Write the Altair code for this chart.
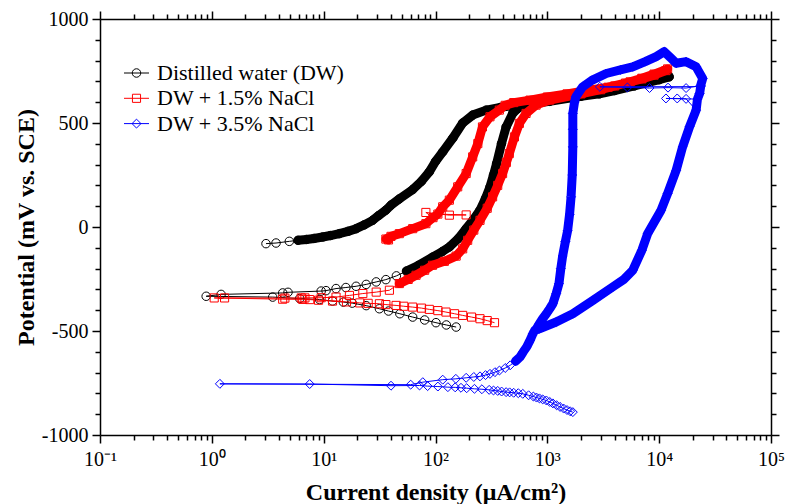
import altair as alt
import pandas as pd

# ---------------------------------------------------------------------------
# Cyclic polarization scans: current density (uA/cm^2) and potential (mV vs SCE)
# listed in scan order.  "LOOP" parts are the densely sampled stretches,
# the other parts are sparsely sampled.
# ---------------------------------------------------------------------------
SERIES = ["Distilled water (DW)", "DW + 1.5% NaCl", "DW + 3.5% NaCl"]

# Distilled water (DW)
DW_CATH_I = [153, 125, 101, 80, 62.5, 48, 38, 31.5, 24, 18, 15, 12, 9.2, 6.1, 3.5, 0.89]
DW_CATH_E = [-481, -471, -460, -447, -433, -417, -404, -393, -378, -366, -361, -356, -349, -344, -337, -333]
DW_RISE_I = [1.21, 4.3, 4.8, 9.5, 10.5, 12.9, 15.8, 19.5, 24, 29.5, 36, 44.7]
DW_RISE_E = [-324, -317, -314, -308, -306, -296, -291, -285, -276, -264, -253, -235]
DW_LOOP_I = [55, 70, 94, 115, 133, 160, 188, 220, 250, 280, 307, 330, 352, 389, 428, 490, 540, 603,
             1050, 2000, 2920, 4000, 6000, 8000, 10000, 12300,
             12000, 9000, 6000, 4000, 2500, 1500, 1000, 700, 500, 380, 284, 215, 175, 143, 116,
             100, 88, 75, 62.5, 47.5, 40, 36, 31, 27.4, 23, 19.5, 16.5, 13.8, 11.5, 9.8, 8.2, 7, 5.9]
DW_LOOP_E = [-212, -185, -145, -118, -96, -55, -8, 38, 81, 138, 193, 250, 305, 401, 481, 546, 568, 586,
             604, 628, 640, 656, 678, 695, 708, 722,
             730, 708, 684, 664, 645, 625, 612, 598, 585, 575, 562, 538, 500, 428, 361,
             315, 265, 220, 180, 135, 105, 81, 55, 32, 10, -8, -21, -32, -41, -48, -55, -60, -64]
DW_TAIL_I = [4.93, 3.75, 3.05]
DW_TAIL_E = [-69, -77, -80]

# DW + 1.5% NaCl
S15_CATH_I = [337, 290, 250, 210, 175, 148, 124, 105, 88, 75, 62.5, 52, 44.4, 36, 31.5, 25,
              21, 16, 12, 9, 7.5, 6.5, 4.3, 1.05]
S15_CATH_E = [-460, -450, -441, -433, -425, -417, -409, -402, -396, -390, -385, -381, -377, -373, -369, -367,
              -365, -360, -356, -352, -349, -348, -347, -341]
S15_RISE_I = [1.3, 4.5, 6.3, 6.8, 9.5, 12.9, 17, 22.4, 29.5, 38.7]
S15_RISE_E = [-341, -342, -341, -341, -340, -337, -329, -320, -313, -304]
S15_LOOP_A_I = [47.5, 57, 67, 80, 94, 120, 153, 175, 194, 220, 250, 290, 324, 360, 398, 430, 457, 508, 562,
                645, 793, 1050, 2000, 3000, 4000, 5500, 7000, 9000, 11900,
                11500, 9000, 7000, 5000, 3500, 2200, 1500, 1000, 700, 500, 420, 372, 307, 263, 239,
                215, 188, 158, 133, 116, 105]
S15_LOOP_A_E = [-272, -252, -232, -208, -184, -165, -140, -105, -64, -15, 32, 90, 145, 200, 257, 310, 353, 433, 498,
                546, 586, 610, 640, 660, 678, 698, 715, 735, 760,
                752, 730, 712, 692, 672, 655, 640, 625, 610, 598, 585, 562, 530, 481, 401,
                337, 257, 193, 129, 97, 62]
S15_SPIKE_I = [188, 133, 82]
S15_SPIKE_E = [58, 57, 70]
S15_LOOP_B_I = [95, 82, 62.5, 47.5, 40, 36, 38]
S15_LOOP_B_E = [45, 16, -8, -32, -45, -58, -62]

# DW + 3.5% NaCl
S35_CATH_I = [1690, 1600, 1500, 1400, 1300, 1210, 1120, 1050, 980, 910, 850, 800, 750, 680, 603, 550, 500,
              460, 428, 390, 360, 330, 302, 260, 223, 190, 169, 150, 129, 105, 85, 72, 40, 7.5, 1.18]
S35_CATH_E = [-890, -886, -880, -873, -865, -857, -848, -841, -834, -829, -824, -820, -815, -809, -802, -799, -797,
              -795, -794, -791, -788, -786, -783, -780, -778, -775, -773, -771, -770, -767, -765, -762, -763, -755, -754]
S35_RISE_I = [60, 77, 116, 152, 188, 220, 250, 280, 307, 340, 373, 420, 465]
S35_RISE_E = [-758, -746, -734, -730, -725, -721, -718, -712, -706, -698, -690, -678, -665]
S35_LOOP_A_I = [520, 570, 610, 653, 700, 743, 800, 850, 910, 980, 1050, 1120, 1200, 1270, 1320, 1370, 1450,
                1520, 1580, 1630, 1670, 1690, 1690, 1690, 1750, 1800, 2070, 2500, 3360, 4500, 5800, 7500,
                9400, 11100, 12800, 14200, 17400, 21400, 24500, 23500]
S35_LOOP_A_E = [-645, -625, -600, -577, -545, -513, -488, -465, -440, -417, -393, -369, -320, -272, -200, -140, -70,
                -16, 60, 145, 250, 385, 470, 546, 600, 626, 674, 705, 738, 755, 770, 795,
                819, 843, 811, 787, 795, 770, 714, 680]
S35_SPIKE_A_I = [17400, 12000, 8200, 5200, 2950]
S35_SPIKE_A_E = [668, 670, 668, 671, 674]
S35_LOOP_B_I = [23500, 23000, 22000]
S35_LOOP_B_E = [675, 642, 615]
S35_SPIKE_B_I = [11500, 14500, 17400]
S35_SPIKE_B_E = [618, 618, 616]
S35_LOOP_C_I = [21400, 18700, 16200, 14200, 11900, 10400, 7900, 7000, 5800, 4860, 3850, 2550, 1690, 1200, 850, 770]
S35_LOOP_C_E = [562, 482, 385, 273, 161, 81, -31, -112, -208, -251, -288, -353, -417, -457, -489, -497]


def scan_frame(parts):
    """Concatenate scan segments in order; flag the densely sampled ones."""
    rows, k = [], 0
    for cur, pot, dense in parts:
        for c, p in zip(cur, pot):
            rows.append({"i": c, "E": p, "k": k, "band": dense})
            k += 1
    return pd.DataFrame(rows)


dw = scan_frame([(DW_CATH_I, DW_CATH_E, False), (DW_RISE_I, DW_RISE_E, False),
                 (DW_LOOP_I, DW_LOOP_E, True), (DW_TAIL_I, DW_TAIL_E, False)])
s15 = scan_frame([(S15_CATH_I, S15_CATH_E, False), (S15_RISE_I, S15_RISE_E, False),
                  (S15_LOOP_A_I, S15_LOOP_A_E, True), (S15_SPIKE_I, S15_SPIKE_E, False),
                  (S15_LOOP_B_I, S15_LOOP_B_E, True)])
s35 = scan_frame([(S35_CATH_I, S35_CATH_E, False), (S35_RISE_I, S35_RISE_E, False),
                  (S35_LOOP_A_I, S35_LOOP_A_E, True), (S35_SPIKE_A_I, S35_SPIKE_A_E, False),
                  (S35_LOOP_B_I, S35_LOOP_B_E, True), (S35_SPIKE_B_I, S35_SPIKE_B_E, False),
                  (S35_LOOP_C_I, S35_LOOP_C_E, True)])

STYLES = [  # (frame, colour, marker, marker size)
    (dw, "#000000", "circle", 72),
    (s15, "#ff0000", "square", 66),
    (s35, "#0000ff", "diamond", 80),
]

FONT = "Liberation Serif"
W, H = 671, 416

# ---------------------------------------------------------------------------
# Axes: log x with decade labels 10^n, linear y; minor ticks shorter
# ---------------------------------------------------------------------------
X_TICKS = [round(m * 10.0 ** p, 6) for p in range(-1, 5) for m in range(1, 10)] + [100000]
Y_TICKS = list(range(-1000, 1001, 100))
IS_DECADE = "abs(log(datum.value)/LN10 - round(log(datum.value)/LN10)) < 1e-6"
X_LABELS = ("(" + IS_DECADE + ") ? '10' + ['\u207b\u00b9','\u2070','\u00b9','\u00b2','\u00b3','\u2074','\u2075']"
            "[round(log(datum.value)/LN10) + 1] : ''")
Y_MAJOR = "datum.value % 500 === 0"
X_TICK_SIZE = {"condition": {"test": IS_DECADE, "value": 8}, "value": 5}
Y_TICK_SIZE = {"condition": {"test": Y_MAJOR, "value": 8}, "value": 5}

x_scale = alt.Scale(type="log", domain=[0.1, 100000], nice=False)
y_scale = alt.Scale(domain=[-1000, 1000], nice=False, zero=False)

axis_bottom = alt.Axis(orient="bottom", values=X_TICKS, labelExpr=X_LABELS, tickSize=X_TICK_SIZE,
                       labelPadding=6, labelFlush=False, labelOverlap=False,
                       title="Current density (\u03bcA/cm\u00b2)", titleX=W / 2, titleY=64,
                       titleBaseline="alphabetic", titleAlign="center")
axis_left = alt.Axis(orient="left", values=Y_TICKS, labelExpr=Y_MAJOR + " ? '' + datum.value : ''",
                     tickSize=Y_TICK_SIZE, labelPadding=4, labelOverlap=False,
                     title="Potential (mV vs. SCE)", titleAngle=270, titleX=-67, titleY=H / 2,
                     titleBaseline="alphabetic", titleAlign="center")
axis_top = alt.Axis(orient="top", values=X_TICKS, labels=False, tickSize=X_TICK_SIZE, title=None)
axis_right = alt.Axis(orient="right", values=Y_TICKS, labels=False, tickSize=Y_TICK_SIZE, title=None)


def xy(ax=None, ay=None):
    return dict(x=alt.X("i:Q", scale=x_scale, axis=ax), y=alt.Y("E:Q", scale=y_scale, axis=ay))


layers = []
for n, (df, color, shape, size) in enumerate(STYLES):
    first = n == 0
    thin = alt.Chart(df).mark_line(color=color, strokeWidth=1).encode(
        order=alt.Order("k:Q"), **xy(axis_bottom if first else None, axis_left if first else None))
    band = alt.Chart(df).transform_filter("datum.band").mark_line(
        color=color, strokeWidth=9, strokeJoin="round", strokeCap="round").encode(
        order=alt.Order("k:Q"), **xy(axis_top if first else None, axis_right if first else None))
    pts = alt.Chart(df).mark_point(shape=shape, size=size, filled=False, color=color,
                                   strokeWidth=1, opacity=1).encode(**xy())
    layers += [thin, band, pts]

# Legend drawn in the upper-left corner of the plot
LEG_X_LINE = (24, 49)
LEG_X_TEXT = 57
LEG_Y0, LEG_DY = 54, 25.3
for n, (name, (_, color, shape, size)) in enumerate(zip(SERIES, STYLES)):
    ly = LEG_Y0 + n * LEG_DY
    base = alt.Chart(pd.DataFrame({"label": [name]}))
    layers.append(base.mark_rule(color=color, strokeWidth=1).encode(
        x=alt.value(LEG_X_LINE[0]), x2=alt.value(LEG_X_LINE[1]), y=alt.value(ly)))
    layers.append(base.mark_point(shape=shape, size=size, filled=False, color=color,
                                  strokeWidth=1, opacity=1).encode(
        x=alt.value(sum(LEG_X_LINE) / 2), y=alt.value(ly)))
    layers.append(base.mark_text(align="left", baseline="middle", font=FONT, fontSize=22,
                                 color="black").encode(
        x=alt.value(LEG_X_TEXT), y=alt.value(ly), text="label:N"))

chart = (
    alt.layer(*layers)
    .resolve_axis(x="independent", y="independent")
    .properties(width=W, height=H, autosize=alt.AutoSizeParams(type="none"),
                padding={"left": 100, "top": 19, "right": 15, "bottom": 69})
    .configure_view(stroke=None)
    .configure_axis(grid=False, domainColor="black", domainWidth=1.5, tickColor="black",
                    tickWidth=1.5, labelColor="black", labelFont=FONT, labelFontSize=20,
                    titleColor="black", titleFont=FONT, titleFontSize=24, titleFontWeight="bold")
)

chart.save("out.html", embed_options={"renderer": "svg", "actions": False})
